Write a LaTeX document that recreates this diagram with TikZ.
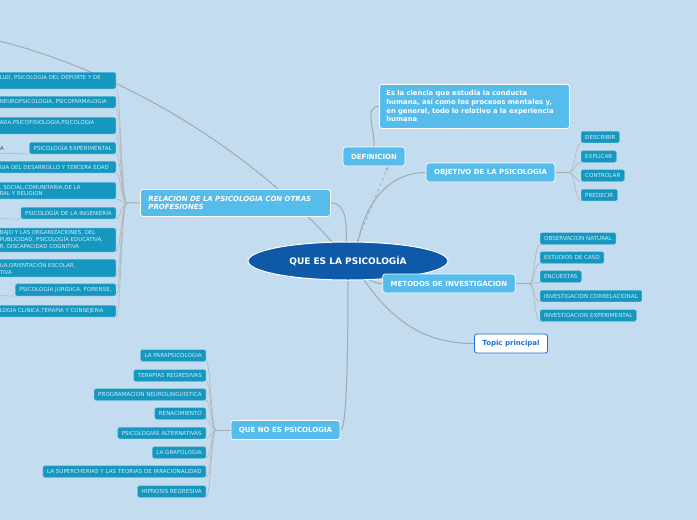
\documentclass[tikz,border=0pt]{standalone}
\usepackage{fontspec}
\setmainfont{DejaVu Sans}
\usetikzlibrary{positioning, arrows.meta, shapes.geometric}

\definecolor{bgblue}{HTML}{C3DCEF}
\definecolor{mainblue}{HTML}{0F5AA8}
\definecolor{skyblue}{HTML}{56BCEB}
\definecolor{tealbox}{HTML}{1597BF}
\definecolor{tealtext}{HTML}{D4EDF7}
\definecolor{linegray}{HTML}{A6A9AC}
\definecolor{topicblue}{HTML}{1A6FD8}

\pgfdeclarelayer{back}
\pgfsetlayers{back,main}

\begin{document}
\begin{tikzpicture}[x=1pt, y=1pt,
    central/.style={ellipse, fill=mainblue, draw=white, line width=1pt, minimum width=200pt, minimum height=38pt, text=white, font=\fontsize{9}{10}\selectfont\bfseries},
    topic/.style={rectangle, rounded corners=2.5pt, fill=skyblue, draw=white, line width=0.8pt, text=white, font=\fontsize{7}{8.7}\selectfont\bfseries, minimum height=19pt, inner xsep=8pt},
    subtopic/.style={rectangle, rounded corners=1.5pt, fill=tealbox, draw=tealbox!70!white, line width=0.4pt, text=tealtext, font=\fontsize{5.6}{6.7}\selectfont, minimum height=11.5pt, inner xsep=4pt, inner ysep=2.8pt},
    relsub/.style={subtopic, anchor=south east, text width=113pt, align=left, inner xsep=3pt, font=\fontsize{5.4}{6.7}\selectfont},
    link/.style={draw=linegray, line width=1pt},
    sublink/.style={draw=linegray!85!white, line width=0.6pt}]

    \useasboundingbox (0,0) rectangle (697,-520);

    \node[central] (psico) at (348,-261) {QUE ES LA PSICOLOGÍA};

    \node[topic] (def) at (374,-156.5) {DEFINICION};
    \node[topic, anchor=north west, text width=176pt, align=left, inner xsep=7pt, minimum height=44pt, font=\fontsize{6.8}{8.7}\selectfont\bfseries] (deftext) at (379,-84) {Es la ciencia que estudia la conducta\\ humana, así como los procesos mentales y,\\ en general, todo lo relativo a la experiencia\\ humana};
    \node[topic] (obj) at (490.5,-172.5) {OBJETIVO DE LA PSICOLOGIA};
    \node[topic] (met) at (449,-283.5) {METODOS DE INVESTIGACION};
    \node[topic, fill=white, draw=topicblue, text=topicblue] (principal) at (511,-343.5) {Topic principal};
    \node[topic] (queno) at (285.5,-430) {QUE NO ES PSICOLOGIA};
    \node[topic, anchor=north west, text width=174pt, align=left, minimum height=27pt, font=\fontsize{7}{8.7}\selectfont\bfseries\itshape] (rel) at (140,-189) {RELACION DE LA PSICOLOGIA CON OTRAS\\ PROFESIONES};

    % objetivo
    \node[subtopic, anchor=west] (describir) at (581,-137) {DESCRIBIR};
    \node[subtopic, anchor=west] (explicar) at (581,-156.5) {EXPLICAR};
    \node[subtopic, anchor=west] (controlar) at (581,-175.5) {CONTROLAR};
    \node[subtopic, anchor=west] (predecir) at (581,-195) {PREDECIR};

    % metodos
    \node[subtopic, anchor=west] (observacion) at (540,-238.5) {OBSERVACION NATURAL};
    \node[subtopic, anchor=west] (estudios) at (540,-257.5) {ESTUDIOS DE CASO};
    \node[subtopic, anchor=west] (encuestas) at (540,-276.5) {ENCUESTAS};
    \node[subtopic, anchor=west] (correlacional) at (540,-296) {INVESTIGACION CORRELACIONAL};
    \node[subtopic, anchor=west] (invexp) at (540,-315.5) {INVESTIGACION EXPERIMENTAL};

    % que no es
    \node[subtopic, anchor=east] (parapsico) at (206,-355.5) {LA PARAPSICOLOGIA};
    \node[subtopic, anchor=east] (terapias) at (206,-375.5) {TERAPIAS REGRESIVAS};
    \node[subtopic, anchor=east] (programacion) at (206,-394.5) {PROGRAMACION NEUROLINGUISTICA};
    \node[subtopic, anchor=east] (renacimiento) at (206,-413.5) {RENACIMIENTO};
    \node[subtopic, anchor=east] (alternativas) at (206,-433) {PSICOLOGIAS ALTERNATIVAS};
    \node[subtopic, anchor=east] (grafologia) at (206,-452.5) {LA GRAFOLOGIA};
    \node[subtopic, anchor=east] (supercherias) at (206,-471.5) {LA SUPERCHERIAS Y LAS TEORIAS DE IRRACIONALIDAD};
    \node[subtopic, anchor=east] (hipnosis) at (206,-491.5) {HIPNOSIS REGRESIVA};

    % relacion con otras profesiones
    \node[relsub] (salud) at (116,-89) {LUD, PSICOLOGIA DEL DEPORTE Y DE\\~};
    \node[relsub] (neuro) at (116,-108) {NEUROPSICOLOGIA, PSICOFARMALOGIA};
    \node[relsub] (fisio) at (116,-134) {ADA,PSICOFISIOLOGIA,PSICOLOGIA\\~};
    \node[subtopic, anchor=south east] (psicoexp) at (116,-154) {PSICOLOGÍA EXPERIMENTAL};
    \node[anchor=base west, inner sep=0pt, text=black!75, font=\fontsize{5.4}{6.7}\selectfont] (expa) at (0,-150) {A};
    \node[relsub] (desarrollo) at (116,-173) {GIA DEL DESARROLLO Y TERCERA EDAD};
    \node[relsub] (social) at (116,-199) {, SOCIAL,COMUNITARIA,DE LA\\RAL Y RELIGION};
    \node[subtopic, anchor=south east] (ingenieria) at (116,-219) {PSICOLOGÍA DE LA INGENIERÍA};
    \node[relsub] (trabajo) at (116,-252) {BAJO Y LAS ORGANIZACIONES, DEL\\PUBLICIDAD, PSICOLOGÍA EDUCATIVA,\\R, DISCAPACIDAD COGNITIVA};
    \node[relsub] (escolar) at (116,-277) {UA,ORIENTACIÓN ESCOLAR,\\TIVA};
    \node[subtopic, anchor=south east] (forense) at (116,-296) {PSICOLOGÍA JURÍDICA, FORENSE,};
    \node[relsub] (clinica) at (116,-317) {LOGIA CLINICA,TERAPIA Y CONSEJERIA};

    \coordinate (relj) at (127,-203);
    \coordinate (objj) at (569,-172.5);
    \coordinate (metj) at (529,-283.5);
    \coordinate (quenoj) at (216,-430);
    \coordinate (arcend) at (-5,-40);
    \coordinate (expaend) at (-10,-153);
    \coordinate (ingend) at (-10,-218.5);
    \coordinate (forend) at (-10,-295.5);

    \begin{pgfonlayer}{back}
    \fill[bgblue] (0,0) rectangle (697,-520);

    \draw[link] (psico.130) .. controls (250,-150) and (120,-70) .. (arcend);
    \draw[link] (psico.95) to[out=90, in=0] (rel.east);
    \draw[link] (psico.62) to[out=80, in=180] (obj.west);
    \draw[link] (psico.-42) to[out=-20, in=180] (met.west);
    \draw[link] (psico.-50) to[out=-55, in=180] (principal.west);
    \draw[link] (psico.-90) .. controls +(0,-120) and +(4,0) .. (queno.east);
    \draw[link, dashed, line width=0.7pt, -{Stealth[length=4pt, width=3.5pt]}] (psico.65) -- ([xshift=14pt]def.south);
    \draw[link] (def.north) to[out=85, in=180] (deftext.west);

    \draw[link] (rel.west) -- (relj);
    \draw[link] (obj.east) -- (objj);
    \draw[link] (met.east) -- (metj);
    \draw[link] (queno.west) -- (quenoj);

    \foreach \n in {describir, explicar, controlar, predecir}
        \draw[sublink] (objj) .. controls +(6,0) and +(-6,0) .. (\n.south west);
    \foreach \n in {observacion, estudios, encuestas, correlacional, invexp}
        \draw[sublink] (metj) .. controls +(6,0) and +(-6,0) .. (\n.south west);
    \foreach \n in {parapsico, terapias, programacion, renacimiento, alternativas, grafologia, supercherias, hipnosis}
        \draw[sublink] (quenoj) .. controls +(-5,0) and +(5,0) .. (\n.south east);
    \foreach \n in {salud, neuro, fisio, psicoexp, desarrollo, social, ingenieria, trabajo, escolar, forense, clinica}
        \draw[sublink] (relj) .. controls +(-6,0) and +(5,0) .. (\n.south east);

    \draw[sublink] (expaend) -- (psicoexp.south west);
    \draw[sublink] (ingend) -- (ingenieria.south west);
    \draw[sublink] (forend) -- (forense.south west);
    \end{pgfonlayer}

\end{tikzpicture}
\end{document}
